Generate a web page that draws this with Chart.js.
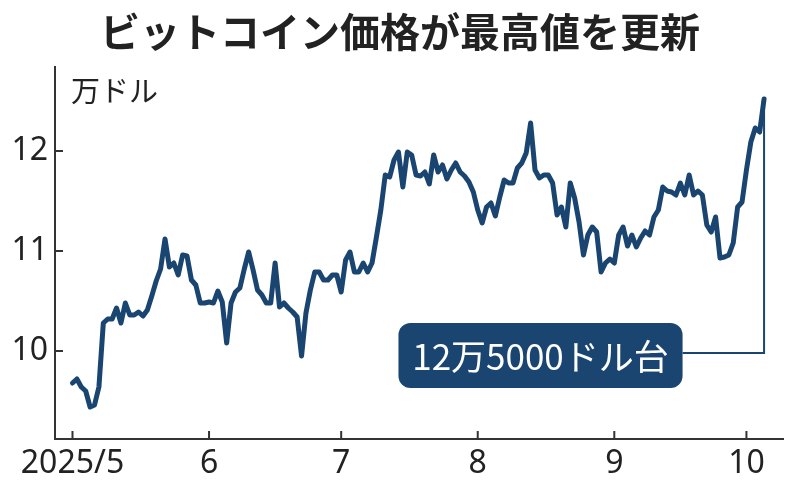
<!DOCTYPE html>
<html lang="ja">
<head>
    <meta charset="UTF-8">
    <title>ビットコイン価格が最高値を更新</title>
    <script src="https://cdn.jsdelivr.net/npm/chart.js"></script>
    <style>
        body {
            margin: 0;
            padding: 0;
            background: #fff;
            overflow: hidden;
        }
        canvas {
            display: block;
        }
    </style>
</head>
<body>
    <canvas id="btcChart" width="800" height="496"></canvas>

    <script>
        // 2025/5/1 から 1日ごとの終値（万ドル）
        const prices = [
            9.68, 9.72, 9.64, 9.60, 9.44, 9.46, 9.64, 10.28, 10.32, 10.32,
            10.43, 10.28, 10.48, 10.36, 10.36, 10.39, 10.35, 10.41, 10.55, 10.70,
            10.82, 11.12, 10.84, 10.88, 10.76, 10.96, 10.95, 10.71, 10.66, 10.48,
            10.48, 10.49, 10.48, 10.60, 10.49, 10.08, 10.48, 10.59, 10.63, 10.82,
            10.99, 10.81, 10.61, 10.56, 10.48, 10.48, 10.88, 10.44, 10.48, 10.43,
            10.39, 10.34, 9.95, 10.38, 10.61, 10.79, 10.79, 10.71, 10.71, 10.76,
            10.76, 10.59, 10.91, 10.99, 10.79, 10.79, 10.88, 10.79, 10.88, 11.14,
            11.41, 11.76, 11.74, 11.91, 11.99, 11.64, 11.99, 11.96, 11.76, 11.75,
            11.79, 11.67, 11.96, 11.79, 11.86, 11.72, 11.81, 11.88, 11.79, 11.75,
            11.69, 11.59, 11.41, 11.28, 11.44, 11.48, 11.35, 11.54, 11.71, 11.68,
            11.68, 11.83, 11.88, 11.98, 12.28, 11.81, 11.73, 11.76, 11.76, 11.68,
            11.36, 11.44, 11.24, 11.68, 11.53, 11.29, 10.96, 11.16, 11.24, 11.19,
            10.79, 10.88, 10.92, 10.88, 11.16, 11.24, 11.05, 11.16, 11.04, 11.13,
            11.20, 11.16, 11.34, 11.41, 11.64, 11.60, 11.59, 11.56, 11.68, 11.56,
            11.76, 11.56, 11.60, 11.56, 11.26, 11.19, 11.34, 10.93, 10.94, 10.96,
            11.08, 11.44, 11.49, 11.81, 12.09, 12.23, 12.19, 12.52
        ];

        // 月初の位置（5/1 からの日数）と目盛りラベル
        const monthTickDays = [0, 31, 61, 92, 123, 153];
        const monthTickLabels = ["2025/5", "6", "7", "8", "9", "10"];
        const yTicks = [10, 11, 12];

        const titleText = "ビットコイン価格が最高値を更新";
        const unitText = "万ドル";
        const noteText = "12万5000ドル台";

        const lineColor = "#1b4571";
        const textColor = "#222";
        const tickFont = { family: "'Noto Sans', sans-serif", size: 32 };

        // タイトル・単位・注記・内向きの目盛りを描く
        const decorPlugin = {
            id: "decor",
            afterDraw(chart) {
                const ctx = chart.ctx;
                const xs = chart.scales.x;
                const ys = chart.scales.y;
                const area = chart.chartArea;

                ctx.save();
                ctx.strokeStyle = "#333";
                ctx.lineWidth = 2;
                monthTickDays.forEach(d => {
                    const px = xs.getPixelForValue(d);
                    ctx.beginPath();
                    ctx.moveTo(px, area.bottom);
                    ctx.lineTo(px, area.bottom - 8);
                    ctx.stroke();
                });
                yTicks.forEach(v => {
                    const py = ys.getPixelForValue(v);
                    ctx.beginPath();
                    ctx.moveTo(area.left, py);
                    ctx.lineTo(area.left + 8, py);
                    ctx.stroke();
                });

                // タイトル
                ctx.fillStyle = textColor;
                ctx.font = "bold 40px 'Noto Sans CJK JP', sans-serif";
                ctx.textAlign = "center";
                ctx.textBaseline = "middle";
                ctx.fillText(titleText, chart.width / 2, 32);

                // 単位
                ctx.font = "29px 'Noto Sans CJK JP', sans-serif";
                ctx.textAlign = "left";
                ctx.fillText(unitText, 71, 91);

                // 注記（最後の点から引き出し線）
                const meta = chart.getDatasetMeta(0);
                const last = meta.data[meta.data.length - 1];
                const boxL = xs.getPixelForValue(74);
                const boxR = xs.getPixelForValue(138.5);
                const boxT = ys.getPixelForValue(10.28);
                const boxB = ys.getPixelForValue(9.63);
                const leadY = ys.getPixelForValue(9.98);

                ctx.strokeStyle = lineColor;
                ctx.lineWidth = 2;
                ctx.beginPath();
                ctx.moveTo(last.x, last.y);
                ctx.lineTo(last.x, leadY);
                ctx.lineTo(boxR, leadY);
                ctx.stroke();

                ctx.fillStyle = lineColor;
                ctx.beginPath();
                ctx.roundRect(boxL, boxT, boxR - boxL, boxB - boxT, 12);
                ctx.fill();

                ctx.fillStyle = "#fff";
                ctx.font = "35px 'Noto Sans CJK JP', sans-serif";
                ctx.textAlign = "center";
                ctx.fillText(noteText, (boxL + boxR) / 2, (boxT + boxB) / 2 + 1);
                ctx.restore();
            }
        };

        const ctx = document.getElementById("btcChart").getContext("2d");
        new Chart(ctx, {
            type: "line",
            data: {
                datasets: [{
                    data: prices.map((p, i) => ({ x: i, y: p })),
                    borderColor: lineColor,
                    borderWidth: 5,
                    borderJoinStyle: "round",
                    borderCapStyle: "round",
                    pointRadius: 0,
                    tension: 0,
                    fill: false
                }]
            },
            options: {
                responsive: false,
                animation: false,
                devicePixelRatio: 1,
                layout: { padding: { top: 67, right: 17, left: 0, bottom: 0 } },
                plugins: {
                    legend: { display: false },
                    tooltip: { enabled: false }
                },
                scales: {
                    x: {
                        type: "linear",
                        min: -3.97,
                        max: 161.3,
                        afterBuildTicks: s => { s.ticks = monthTickDays.map(v => ({ value: v })); },
                        afterFit: s => { s.height = 57; },
                        grid: { display: false, drawTicks: false },
                        border: { display: true, color: "#333", width: 2 },
                        ticks: {
                            autoSkip: false,
                            maxRotation: 0,
                            padding: 6,
                            color: textColor,
                            font: tickFont,
                            callback: v => monthTickLabels[monthTickDays.indexOf(v)]
                        }
                    },
                    y: {
                        min: 9.12,
                        max: 12.84,
                        afterBuildTicks: s => { s.ticks = yTicks.map(v => ({ value: v })); },
                        afterFit: s => { s.width = 55; },
                        grid: { display: false, drawTicks: false },
                        border: { display: true, color: "#333", width: 2 },
                        ticks: {
                            padding: 7,
                            color: textColor,
                            font: tickFont
                        }
                    }
                }
            },
            plugins: [decorPlugin]
        });
    </script>
</body>
</html>
